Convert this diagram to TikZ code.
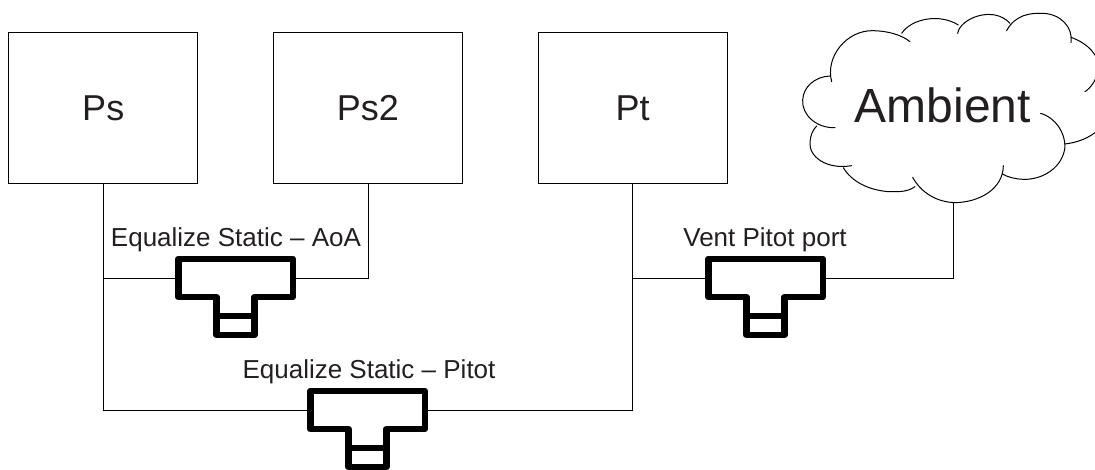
\documentclass[tikz,border=0pt]{standalone}
\usepackage{fontspec}
\setmainfont{Liberation Sans}
\definecolor{inkc}{HTML}{231F20}
\tikzset{
	chamber/.style={draw, minimum width=189pt, minimum height=151pt, inner sep=0pt, text=inkc, font=\fontsize{36}{40}\selectfont},
	valvelabel/.style={inner sep=0pt, anchor=base, text=inkc, font=\fontsize{26}{30}\selectfont},
	valve/.pic={
		\draw[line width=6.5pt, line join=round] (-57.25,-19) -- (57.25,-19) -- (57.25,19) -- (19,19) -- (19,57) -- (-19,57) -- (-19,19) -- (-57.25,19) -- cycle;
		\draw[line width=6.5pt] (-19,38) -- (19,38);
		\coordinate (-w) at (-60.5,0);
		\coordinate (-e) at (60.5,0);
	}
}
\begin{document}
\begin{tikzpicture}[x=1pt, y=-1pt, line width=1pt, line cap=round]
	\useasboundingbox (0,0) rectangle (1095,469);
	\node[chamber] (ps) at (103.25,108) {Ps};
	\node[chamber] (ps2) at (368,108) {Ps2};
	\node[chamber] (pt) at (632.5,108) {Pt};
	\node[inner sep=0pt, text=inkc, font=\fontsize{48}{52}\selectfont] (ambient) at (942.7,105) {Ambient};
	% cloud outline
	\begin{scope}[shift={(790,0)}, x=0.3333pt, y=-0.3333pt]
		\draw (125,245) .. controls (105,170) and (170,90) .. (250,92) .. controls (295,93) and (335,105) .. (360,125);
		\draw (335,100) .. controls (365,55) and (450,40) .. (505,75);
		\draw (503,100) .. controls (510,55) and (610,15) .. (660,70);
		\draw (650,92) .. controls (675,45) and (720,38) .. (760,40) .. controls (810,42) and (850,80) .. (843,128);
		\draw (843,112) .. controls (895,130) and (930,170) .. (925,205) .. controls (922,235) and (905,262) .. (885,275);
		\draw (930,385) .. controls (900,415) and (860,428) .. (825,432);
		\draw (752,340) .. controls (800,355) and (825,400) .. (825,440) .. controls (820,500) and (760,540) .. (700,538) .. controls (675,537) and (655,532) .. (637,522);
		\draw (640,497) .. controls (640,565) and (570,608) .. (492,608) .. controls (440,605) and (395,580) .. (368,532);
		\draw (375,560) .. controls (350,578) and (320,575) .. (295,575) .. controls (235,570) and (185,545) .. (160,503);
		\draw (185,497) .. controls (110,510) and (55,470) .. (60,425) .. controls (62,405) and (68,390) .. (80,378);
		\draw (135,383) .. controls (80,385) and (35,345) .. (38,300) .. controls (40,260) and (75,230) .. (120,228);
		\coordinate (port) at (492,608);
	\end{scope}
	\pic (va) at (235.5,278) {valve};
	\pic (vb) at (765.5,278) {valve};
	\pic (vc) at (367.5,410) {valve};
	\node[valvelabel] (lva) at (236,246) {Equalize Static -- AoA};
	\node[valvelabel] (lvb) at (765,246) {Vent Pitot port};
	\node[valvelabel] (lvc) at (369,378) {Equalize Static -- Pitot};
	\draw (ps.south) -- (ps.south |- va-w) -- (va-w);
	\draw (va-e) -| (ps2.south);
	\draw (ps.south |- va-w) |- (vc-w);
	\draw (vc-e) -| (pt.south);
	\draw (pt.south |- vb-w) -- (vb-w);
	\draw (vb-e) -| (port);
\end{tikzpicture}
\end{document}
